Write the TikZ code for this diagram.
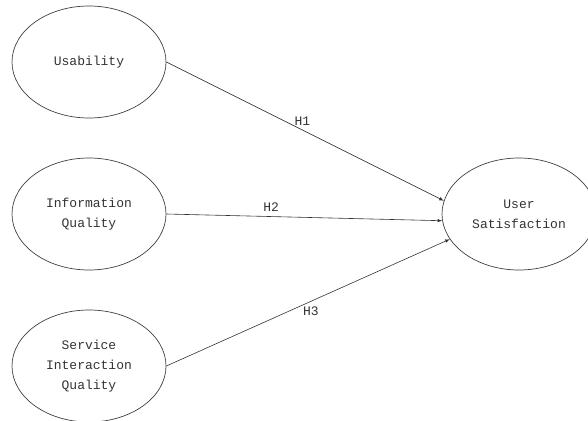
\documentclass[tikz,border=0pt]{standalone}
\usepackage{fontspec}
\setmonofont{Liberation Mono}
\usetikzlibrary{arrows,shapes.geometric,positioning}

\begin{document}
\begin{tikzpicture}[x=1pt,y=-1pt,
    construct/.style={ellipse,draw=black!75,line width=0.7pt,minimum width=154pt,
      minimum height=112pt,align=center,text=black!80,
      font=\ttfamily\fontsize{13}{20}\selectfont},
    hpath/.style={->,>=latex,draw=black!80,line width=0.6pt},
    hyp/.style={text=black!80,font=\ttfamily\fontsize{13}{15}\selectfont}]
  \useasboundingbox (0,0) rectangle (588,420);

  % latent constructs
  \node[construct] (usab) at (89,62) {Usability};
  \node[construct] (infoq) at (89,214) {Information\\Quality};
  \node[construct] (servq) at (89,366) {Service\\Interaction\\Quality};
  \node[construct] (usersat) at (519,214) {User\\Satisfaction};

  % hypotheses
  \draw[hpath] (usab.east) -- (usersat.170) node[hyp,pos=0.49,above=1pt] {H1};
  \draw[hpath] (infoq.east) -- (usersat.185) node[hyp,pos=0.38,above=1pt] {H2};
  \draw[hpath] (servq.east) -- (usersat.200) node[hyp,pos=0.51,below=2pt] {H3};
\end{tikzpicture}
\end{document}
